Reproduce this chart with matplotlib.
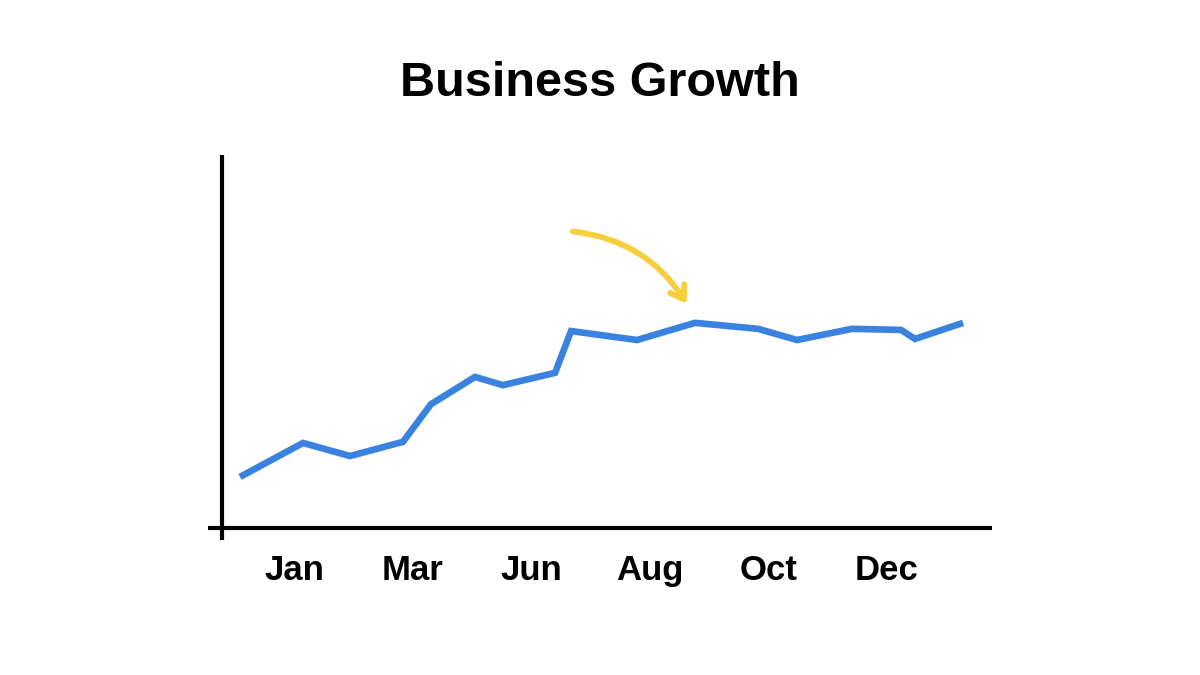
import matplotlib
matplotlib.use("Agg")
from matplotlib import pyplot as plt
from matplotlib.patches import FancyArrowPatch

# data (x in tick units, Jan=0 ... Dec=5)
x_vals = [-0.455, 0.076, 0.472, 0.919, 1.155, 1.526, 1.762, 2.201, 2.336,
          2.892, 3.381, 3.912, 4.241, 4.705, 5.118, 5.236, 5.641]
y_vals = [13.7, 22.8, 19.3, 23.1, 33.2, 40.5, 38.3, 41.6, 52.8,
          50.4, 55.0, 53.4, 50.4, 53.4, 53.1, 50.7, 55.0]
tick_pos = [0, 1, 2, 3, 4, 5]
tick_labels = ["Jan", "Mar", "Jun", "Aug", "Oct", "Dec"]

# hand drawn arrow (annotation), start and end in data coords
arrow_start = (2.327, 79.6)
arrow_end = (3.322, 59.5)

plt.rcParams['font.family'] = ['Liberation Sans', 'DejaVu Sans']

fig = plt.figure(figsize=(12, 6.75), dpi=100)
fig.patch.set_facecolor("white")
ax = fig.add_axes([222 / 1200, 147 / 675, 770 / 1200, 373 / 675])

ax.plot(x_vals, y_vals, color="#3a82e0", linewidth=4.8,
        solid_joinstyle="miter", solid_capstyle="butt")

arrow = FancyArrowPatch(arrow_start, arrow_end,
                        connectionstyle="arc3,rad=-0.25",
                        arrowstyle="->,head_length=0.45,head_width=0.3",
                        mutation_scale=20, color="#f6d03c", linewidth=4.2,
                        capstyle="round", joinstyle="round")
ax.add_patch(arrow)

ax.set_xlim(-0.607, 5.885)
ax.set_ylim(0, 100)

for s in ax.spines.values():
    s.set_visible(False)
# crossed axis lines, like a hand drawn chart
ax.plot([-0.018, 1.0], [0, 0], color="black", linewidth=3.0,
        transform=ax.transAxes, clip_on=False, solid_capstyle="butt")
ax.plot([0, 0], [-0.032, 1.0], color="black", linewidth=3.0,
        transform=ax.transAxes, clip_on=False, solid_capstyle="butt")

ax.set_yticks([])
ax.set_xticks(tick_pos)
ax.set_xticklabels(tick_labels, fontsize=25, fontweight="bold")
ax.tick_params(axis="x", length=0, pad=19)

fig.text(0.5, 1 - 84 / 675, "Business Growth", ha="center", va="center",
         fontsize=35, fontweight="bold")

fig.savefig("out.png", dpi=100, facecolor="white")
